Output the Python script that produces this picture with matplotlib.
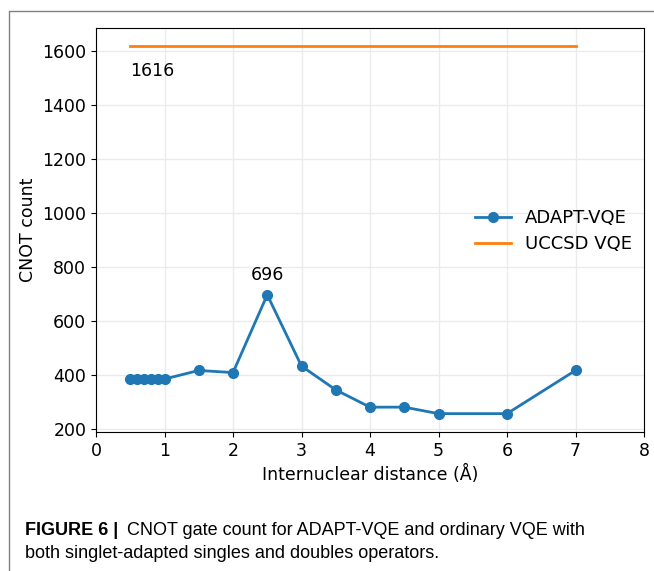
import matplotlib
matplotlib.use("Agg")
import matplotlib.pyplot as plt
from matplotlib.lines import Line2D

distance = [0.5, 0.6, 0.7, 0.8, 0.9, 1.0, 1.5, 2.0, 2.5, 3.0, 3.5, 4.0, 4.5, 5.0, 6.0, 7.0]
adapt_cnot = [384, 384, 384, 384, 384, 384, 416, 408, 696, 432, 344, 280, 280, 256, 256, 416]
uccsd_x = [0.5, 7.0]
uccsd_cnot = [1616, 1616]
xticks = [0, 1, 2, 3, 4, 5, 6, 7, 8]
yticks = [200, 400, 600, 800, 1000, 1200, 1400, 1600]

fs = 12.5
fig = plt.figure(figsize=(6.54, 5.71), dpi=100)
ax = fig.add_axes([96/654, 1-432/571, (644-96)/654, (432-28)/571])

ax.plot(distance, adapt_cnot, '-o', color='#1f77b4', lw=2, ms=7, label='ADAPT-VQE', zorder=3)
ax.plot(uccsd_x, uccsd_cnot, '-', color='#ff7f0e', lw=2, label='UCCSD VQE', zorder=3)

ax.text(0.5, 1523, '1616', ha='left', va='center', fontsize=fs)
ax.text(2.5, 769, '696', ha='center', va='center', fontsize=fs)

ax.set_xlim(0, 8)
ax.set_ylim(188, 1684)
ax.set_xticks(xticks)
ax.set_yticks(yticks)
ax.tick_params(labelsize=fs)
ax.grid(True, color='#ebebeb', lw=1)
ax.set_axisbelow(True)
ax.set_xlabel('Internuclear distance (Å)', fontsize=fs)
ax.set_ylabel('CNOT count', fontsize=fs)
ax.legend(loc='center right', bbox_to_anchor=(1.007, 0.497), frameon=False, fontsize=13,
          handlelength=2.0, handletextpad=0.75, labelspacing=0.45)

# figure border
bx = 9/654
by = 1-11/571
fig.add_artist(Line2D([bx, bx, 1.0], [0.0, by, by], transform=fig.transFigure, color='#808080', lw=1))

# caption
fig.text(25/654, 1-535/571, 'FIGURE 6 |', fontsize=13, fontweight='bold', family='Liberation Sans', va='baseline')
fig.text(127/654, 1-535/571, 'CNOT gate count for ADAPT-VQE and ordinary VQE with', fontsize=13, family='Liberation Sans', va='baseline')
fig.text(25/654, 1-558/571, 'both singlet-adapted singles and doubles operators.', fontsize=13, family='Liberation Sans', va='baseline')

fig.savefig('out.png', dpi=100)
